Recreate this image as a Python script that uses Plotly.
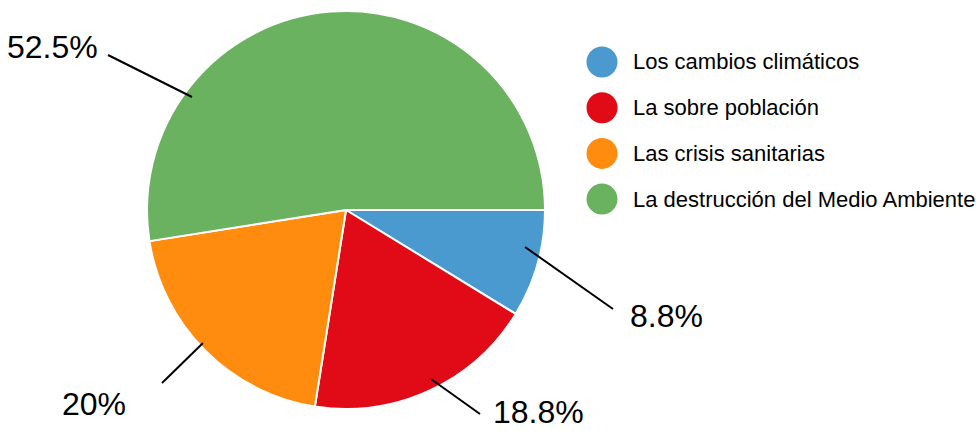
import plotly.graph_objects as go

W, H = 976, 431

categories = [
    "Los cambios climáticos",
    "La sobre población",
    "Las crisis sanitarias",
    "La destrucción del Medio Ambiente",
]
responses = [7, 15, 16, 42]
pct_labels = ["8.8%", "18.8%", "20%", "52.5%"]
colors = ["#4a9ad0", "#e10a17", "#ff8c0e", "#6ab25f"]


def px_x(x):
    return x / W


def px_y(y):
    return 1 - y / H


# pie box (pixels): center ~ (346, 210), radius ~ 199
cx, cy, r = 346, 210, 199

fig = go.Figure(
    go.Pie(
        labels=categories,
        values=responses,
        sort=False,
        direction="clockwise",
        rotation=90,
        textinfo="none",
        hoverinfo="label+percent",
        marker=dict(colors=colors, line=dict(color="white", width=2)),
        showlegend=False,
        domain=dict(
            x=[px_x(cx - r), px_x(cx + r)],
            y=[px_y(cy + r), px_y(cy - r)],
        ),
    )
)

# leader lines (inner point, outer point) and label centers, in pixels
leaders = [
    ((525, 247), (613, 309), (666, 316)),
    ((431, 379), (480, 414), (538, 412)),
    ((203, 343), (162, 383), (94, 404)),
    ((192, 97), (108, 55), (52, 47)),
]

shapes = []
annotations = []
for (p0, p1, lab), txt in zip(leaders, pct_labels):
    shapes.append(dict(type="line", xref="paper", yref="paper",
                       x0=px_x(p0[0]), y0=px_y(p0[1]),
                       x1=px_x(p1[0]), y1=px_y(p1[1]),
                       line=dict(color="black", width=2)))
    annotations.append(dict(x=px_x(lab[0]), y=px_y(lab[1]), xref="paper", yref="paper",
                            text=txt, showarrow=False, xanchor="center", yanchor="middle",
                            font=dict(size=32, color="black")))

# legend drawn by hand so circles and spacing match
leg_x, leg_y0, leg_step = 602, 62, 45.7
for i, (name, col) in enumerate(zip(categories, colors)):
    yy = leg_y0 + i * leg_step
    shapes.append(dict(type="circle", xref="paper", yref="paper",
                       xsizemode="pixel", ysizemode="pixel",
                       xanchor=px_x(leg_x), yanchor=px_y(yy),
                       x0=-15.5, x1=15.5, y0=-15.5, y1=15.5,
                       fillcolor=col, line=dict(width=0)))
    annotations.append(dict(x=px_x(631), y=px_y(yy), xref="paper", yref="paper",
                            text=name, showarrow=False, xanchor="left", yanchor="middle",
                            font=dict(size=22, color="black")))

fig.update_layout(
    width=W,
    height=H,
    margin=dict(l=0, r=0, t=0, b=0),
    paper_bgcolor="white",
    plot_bgcolor="white",
    font=dict(family="Liberation Sans, Arial, sans-serif"),
    shapes=shapes,
    annotations=annotations,
)

fig.write_html("out.html", config={"displayModeBar": False},
               post_script="document.body.style.margin='0';")
